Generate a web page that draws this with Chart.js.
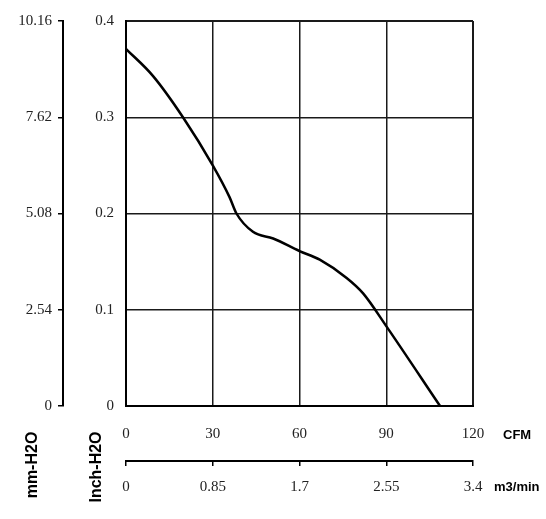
<!DOCTYPE html>
<html>
<head>
<meta charset="utf-8">
<script src="https://cdn.jsdelivr.net/npm/chart.js@4/dist/chart.umd.min.js"></script>
<style>
  html, body { margin: 0; padding: 0; background: #fff; }
  #wrap { position: relative; width: 546px; height: 519px; }
  canvas { position: absolute; left: 0; top: 0; }
  .t { position: absolute; font-family: 'Liberation Sans', Arial, sans-serif; font-weight: bold; color: #000; white-space: nowrap; line-height: 1; }
  .rot { transform: translate(-50%, -50%) rotate(-90deg); font-size: 16px; }
  .unit { font-size: 13px; transform: translateY(-50%); }
</style>
</head>
<body>
<div id="wrap">
  <canvas id="c" width="546" height="519"></canvas>
  <div class="t rot" style="left:32px; top:465px;">mm-H2O</div>
  <div class="t rot" style="left:96px; top:467px;">Inch-H2O</div>
  <div class="t unit" style="left:503px; top:434px;">CFM</div>
  <div class="t unit" style="left:494px; top:486px;">m3/min</div>
</div>
<script>
// Tick labels
const cfmTicks = [0, 30, 60, 90, 120];
const m3Ticks = ['0', '0.85', '1.7', '2.55', '3.4'];
const inchTicks = [0, 0.1, 0.2, 0.3, 0.4];
const mmTicks = ['0', '2.54', '5.08', '7.62', '10.16'];

// Curve (airflow CFM vs static pressure Inch-H2O)
const cfm     = [0,     9.3,   19.7, 30,   35.8,  38.2, 43.9,  50.9,  60,    67,    76.3,  82,    90,    108.6];
const inchH2O = [0.371, 0.343, 0.3,  0.25, 0.217, 0.2,  0.181, 0.174, 0.161, 0.152, 0.133, 0.117, 0.083, 0];

const tickFont = { family: "'Liberation Serif', 'Times New Roman', serif", size: 15 };
const tickColor = '#222';
const gridW = (c) => (c.index === 0 || c.index === 4) ? 2 : 1.5;

new Chart(document.getElementById('c'), {
  type: 'line',
  data: {
    datasets: [{
      data: cfm.map((x, i) => ({ x: x, y: inchH2O[i] })),
      borderColor: '#000',
      borderWidth: 2.5,
      pointRadius: 0,
      fill: false,
      cubicInterpolationMode: 'monotone',
      xAxisID: 'x',
      yAxisID: 'y'
    }]
  },
  options: {
    responsive: false,
    animation: false,
    devicePixelRatio: 1,
    layout: { padding: { top: 20, right: 73, bottom: 18, left: 0 } },
    plugins: { legend: { display: false }, tooltip: { enabled: false } },
    scales: {
      x: {
        type: 'linear', position: 'bottom', weight: 0, min: 0, max: 120,
        afterBuildTicks: s => { s.ticks = cfmTicks.map(v => ({ value: v })); },
        afterFit: s => { s.height = 55; },
        grid: { color: '#1a1a1a', lineWidth: gridW, drawTicks: false },
        border: { display: true, color: '#000', width: 2 },
        ticks: { font: tickFont, color: tickColor, padding: 19, maxRotation: 0, autoSkip: false,
                 callback: (v, i) => String(cfmTicks[i]) }
      },
      x2: {
        type: 'linear', position: 'bottom', weight: 1, min: 0, max: 3.4,
        afterBuildTicks: s => { s.ticks = m3Ticks.map(v => ({ value: Number(v) })); },
        afterFit: s => { s.height = 40; },
        grid: { drawOnChartArea: false, drawTicks: true, tickLength: 5, color: '#000', lineWidth: 1.5 },
        border: { display: true, color: '#000', width: 2 },
        ticks: { font: tickFont, color: tickColor, padding: 12, maxRotation: 0, autoSkip: false,
                 callback: (v, i) => m3Ticks[i] }
      },
      y: {
        type: 'linear', position: 'left', weight: 0, min: 0, max: 0.4,
        afterBuildTicks: s => { s.ticks = inchTicks.map(v => ({ value: v })); },
        afterFit: s => { s.width = 63; },
        grid: { color: '#1a1a1a', lineWidth: gridW, drawTicks: false },
        border: { display: true, color: '#000', width: 2 },
        ticks: { font: tickFont, color: tickColor, padding: 12, autoSkip: false,
                 callback: (v, i) => String(inchTicks[i]) }
      },
      y2: {
        type: 'linear', position: 'left', weight: 1, min: 0, max: 10.16,
        afterBuildTicks: s => { s.ticks = mmTicks.map(v => ({ value: Number(v) })); },
        afterFit: s => { s.width = 63; },
        grid: { drawOnChartArea: false, drawTicks: true, tickLength: 5, color: '#000', lineWidth: 1.5 },
        border: { display: true, color: '#000', width: 2 },
        ticks: { font: tickFont, color: tickColor, padding: 6, autoSkip: false,
                 callback: (v, i) => mmTicks[i] }
      }
    }
  }
});
</script>
</body>
</html>
